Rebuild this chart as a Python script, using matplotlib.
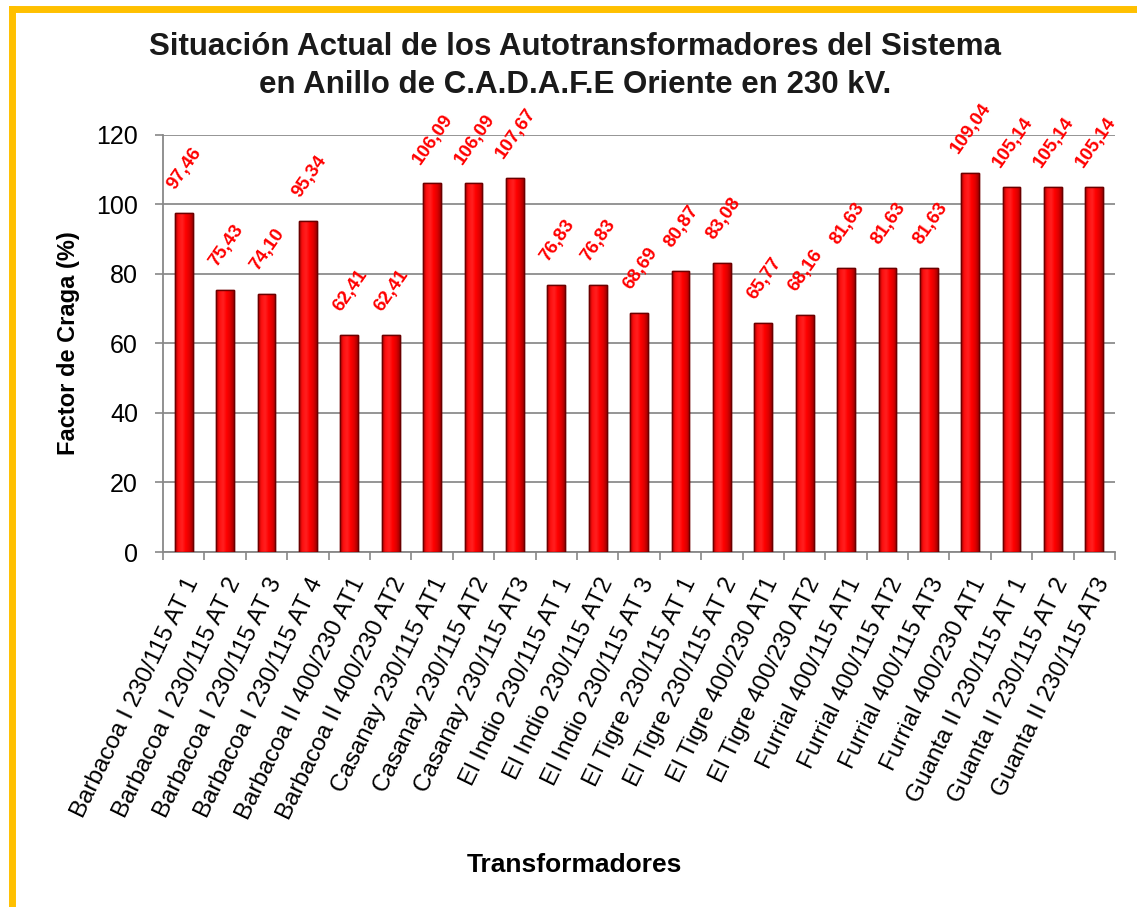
import numpy as np
import matplotlib
matplotlib.use("Agg")
import matplotlib.pyplot as plt
from matplotlib.colors import LinearSegmentedColormap
from matplotlib.lines import Line2D

plt.rcParams['font.family'] = ['Liberation Sans', 'DejaVu Sans']

# data
categorias = [
    "Barbacoa I 230/115 AT 1", "Barbacoa I 230/115 AT 2", "Barbacoa I 230/115 AT 3",
    "Barbacoa I 230/115 AT 4", "Barbacoa II 400/230 AT1", "Barbacoa II 400/230 AT2",
    "Casanay 230/115 AT1", "Casanay 230/115 AT2", "Casanay 230/115 AT3",
    "El Indio 230/115 AT 1", "El Indio 230/115 AT2", "El Indio 230/115 AT 3",
    "El Tigre 230/115 AT 1", "El Tigre 230/115 AT 2", "El Tigre 400/230 AT1",
    "El Tigre 400/230 AT2", "Furrial 400/115 AT1", "Furrial 400/115 AT2",
    "Furrial 400/115 AT3", "Furrial 400/230 AT1", "Guanta II 230/115 AT 1",
    "Guanta II 230/115 AT 2", "Guanta II 230/115 AT3",
]
factor_carga = [97.46, 75.43, 74.10, 95.34, 62.41, 62.41, 106.09, 106.09, 107.67,
                76.83, 76.83, 68.69, 80.87, 83.08, 65.77, 68.16, 81.63, 81.63,
                81.63, 109.04, 105.14, 105.14, 105.14]
yticks = [0, 20, 40, 60, 80, 100, 120]

fig = plt.figure(figsize=(11.37, 9.07), dpi=100)
ax = fig.add_axes([0.1434, 0.3914, 0.8373, 0.4598])

x = np.arange(len(categorias))
bars = ax.bar(x, factor_carga, width=0.43, color='#ff0000', edgecolor='#7a0000',
              linewidth=1.0, zorder=3)

# cylinder-like shading
cmap = LinearSegmentedColormap.from_list(
    'cil', ['#b00000', '#ff1010', '#ff2020', '#ff0000', '#e00000', '#a00000'])
grad = np.linspace(0, 1, 64).reshape(1, -1)
for b in bars:
    im = ax.imshow(grad, extent=[b.get_x(), b.get_x() + b.get_width(), 0, b.get_height()],
                   cmap=cmap, aspect='auto', zorder=3.5)
    im.set_clip_path(b)
    ax.bar(b.get_x() + b.get_width() / 2, b.get_height(), width=b.get_width(),
           color='none', edgecolor='#6a0000', linewidth=1.0, zorder=4)

for xi, v in zip(x, factor_carga):
    ax.annotate(f"{v:.2f}".replace('.', ','), (xi, v), xytext=(1, 32),
                textcoords='offset points', ha='center', va='center', rotation=55,
                color='#ff0000', fontsize=13.5, fontweight='bold', zorder=5)

ax.set_xlim(-0.45, len(categorias) - 0.55)
ax.set_ylim(0, 120)
ax.set_yticks(yticks)
ax.tick_params(axis='y', labelsize=18, length=6, color='#888888', width=1.2, pad=12)
ax.yaxis.grid(True, color='#8c8c8c', linewidth=1.3, zorder=0)
ax.set_axisbelow(True)

ax.set_xticks(x)
ax.set_xticklabels(categorias, rotation=64, ha='right', rotation_mode='anchor',
                   fontsize=17.5)
ax.set_xticks(np.arange(-0.5, len(categorias)), minor=True)
ax.tick_params(axis='x', which='major', length=0, pad=16)
ax.tick_params(axis='x', which='minor', length=6, color='#888888', width=1.2)

for s in ['top', 'right']:
    ax.spines[s].set_visible(False)
for s in ['left', 'bottom']:
    ax.spines[s].set_color('#888888')
    ax.spines[s].set_linewidth(1.3)

ax.set_ylabel("Factor de Craga (%)", fontsize=17, fontweight='bold', labelpad=12)
fig.text(0.505, 0.046, "Transformadores", ha='center', va='center',
         fontsize=19, fontweight='bold')
fig.text(0.506, 0.927, "Situación Actual de los Autotransformadores del Sistema\n"
         "en Anillo de C.A.D.A.F.E Oriente en 230 kV.", ha='center', va='center',
         fontsize=22.5, fontweight='bold', linespacing=1.35, color='#1a1a1a')

# frame lines (top and left)
fig.add_artist(Line2D([0.0105, 1.0], [0.9896, 0.9896], transform=fig.transFigure,
                      color='#ffc000', linewidth=5))
fig.add_artist(Line2D([0.0105, 0.0105], [0.0, 0.9896], transform=fig.transFigure,
                      color='#ffc000', linewidth=5))

fig.savefig("out.png", dpi=100)
